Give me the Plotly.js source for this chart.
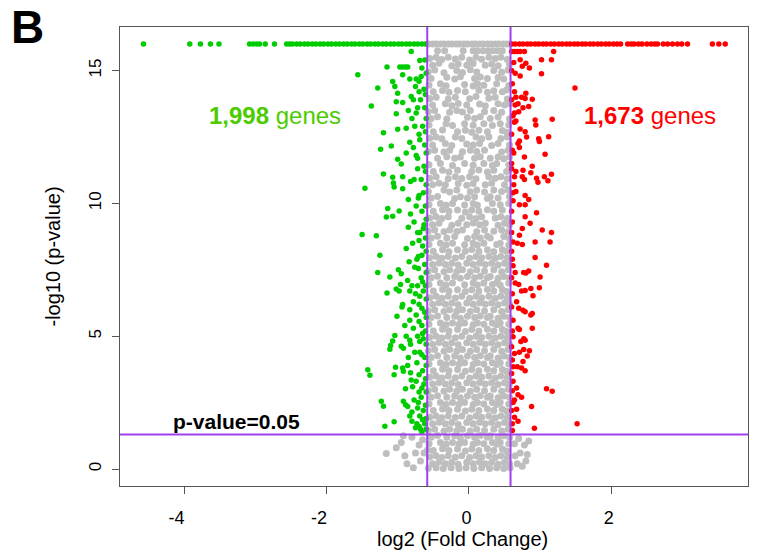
<!DOCTYPE html>
<html>
<head>
<meta charset="utf-8">
<script src="https://cdn.plot.ly/plotly-3.0.1.min.js"></script>
<style>html,body{margin:0;padding:0;background:#fff;}#chart{width:757px;height:556px;}</style>
</head>
<body>
<div id="chart"></div>
<script>
// ---- data ----
const xTickVals = [-4, -2, 0, 2];
const xTickLabels = ['-4\u00a0\u00a0\u00a0', '-2\u00a0\u00a0\u00a0', '0\u00a0', '2\u00a0'];
const yTickVals = [0, 5, 10, 15];
const fcCut = 0.585;        // log2(1.5)
const pCut = 1.301;         // -log10(0.05)
const capY = 16;            // capped -log10(p)
const downCount = "1,998";
const upCount = "1,673";
const xTitle = "log2 (Fold Change)";
const yTitle = "-log10 (p-value)";

// points capped at the top (y = 16)
const greenTopX = [-4.57,-3.92,-3.77,-3.63,-3.51,-3.08,-3.03,-2.98,-2.94,-2.86,-2.73,-2.56,-2.52,-2.48,-2.42,-2.37,-2.31,-2.26,-2.2,-2.15,-2.09,-2.04,-1.98,-1.93,-1.87,-1.82,-1.76,-1.71,-1.65,-1.6,-1.54,-1.49,-1.43,-1.38,-1.32,-1.27,-1.21,-1.16,-1.1,-1.05,-0.99,-0.94,-0.88,-0.83,-0.77,-0.72,-0.66,-0.61];
const redTopX = [0.6,0.65,0.71,0.76,0.82,0.87,0.93,0.98,1.04,1.09,1.15,1.2,1.26,1.31,1.37,1.42,1.48,1.53,1.59,1.64,1.7,1.75,1.81,1.86,1.92,1.97,2.03,2.08,2.13,2.23,2.28,2.32,2.38,2.43,2.5,2.56,2.61,2.65,2.73,2.79,2.86,2.93,2.99,3.07,3.42,3.51,3.6];
const grayTopX = [-0.57,-0.51,-0.46,-0.4,-0.35,-0.29,-0.24,-0.18,-0.13,-0.07,-0.02,0.04,0.09,0.15,0.2,0.26,0.31,0.37,0.42,0.48,0.53,0.57];

// down-regulated genes (green)
const greenPts = [
[-0.81,15.72],[-1.15,15.13],[-1.56,14.84],[-0.97,15.13],[-0.93,15.13],[-0.89,15.13],[-0.86,15.13],[-0.69,15.38],[-0.93,14.84],[-0.83,14.68],[-0.74,14.68],[-0.67,14.78],[-1.07,14.59],[-1.28,14.34],[-1.04,14.4],[-1.0,14.15],[-1.37,13.67],[-1.02,13.83],[-0.93,13.8],[-0.81,14.02],[-1.02,13.37],[-0.88,12.83],[-1.0,12.79],[-1.2,12.66],[-1.09,12.16],[-1.24,12.04],[-1.0,11.66],[-0.95,11.48],[-1.2,11.11],[-1.07,10.98],[-1.06,10.77],[-1.05,10.62],[-0.93,11.0],[-0.82,10.82],[-1.46,10.57],[-0.93,10.55],[-0.85,10.15],[-1.14,9.81],[-0.98,9.71],[-1.16,9.49],[-1.07,9.52],[-1.5,8.83],[-1.3,8.78],
[-1.25,8.05],[-1.28,7.4],[-1.11,7.23],[-0.99,7.5],[-0.95,7.35],[-0.96,6.95],[-1.15,6.63],[-1.02,6.78],[-0.98,6.7],[-0.83,6.7],[-0.8,6.9],[-0.75,6.6],[-0.93,6.19],[-0.94,6.1],[-1.01,5.75],[-0.83,5.6],[-1.04,5.03],[-1.07,4.82],[-1.11,4.51],[-1.1,4.65],[-0.95,4.62],[-0.92,4.55],[-0.88,5.0],[-0.83,4.85],[-0.82,4.7],[-1.42,3.74],[-1.39,3.53],[-1.03,3.83],[-1.05,3.55],[-0.93,3.8],[-0.92,3.68],[-0.82,3.62],[-0.81,3.35],[-0.89,3.02],[-1.23,2.55],[-1.2,2.36],[-0.92,2.55],[-0.89,2.42],[-0.86,2.35],[-1.05,1.78],[-1.18,1.61],[-0.83,2.0],[-0.8,1.8],[-0.73,1.7],
[-0.75,14.4],[-0.7,14.2],[-0.78,13.9],[-0.72,13.6],[-0.85,13.5],[-0.8,13.2],[-0.76,12.9],[-0.7,12.6],[-0.83,12.3],[-0.78,12.1],[-0.74,11.8],[-0.88,11.9],[-0.72,11.3],[-0.77,10.9],[-0.7,10.3],[-0.74,9.9],[-0.82,9.6],[-0.77,9.3],[-0.85,9.1],[-0.72,8.9],[-0.79,8.5],[-0.88,8.3],[-0.71,8.0],[-0.84,7.8],[-0.76,7.6],[-0.86,7.1],[-0.72,6.9],[-0.78,6.3],[-0.83,6.0],[-0.74,5.8],[-0.9,5.4],[-0.78,5.3],[-0.72,5.0],[-0.76,4.4],[-0.85,4.2],[-0.73,4.0],[-0.86,3.9],[-0.74,3.3],[-0.79,3.1],[-0.7,2.9],[-0.77,2.6],[-0.72,2.3],[-0.8,2.15],[-0.69,2.0],[-0.75,1.55],[-0.68,1.5],
[-0.62,15.4],[-0.66,15.1],[-0.6,14.9],[-0.7,14.6],[-0.63,14.3],[-0.61,14.1],[-0.68,13.9],[-0.62,13.6],[-0.74,13.4],[-0.6,13.2],[-0.65,12.9],[-0.61,12.7],[-0.69,12.4],[-0.62,12.2],[-0.6,11.9],[-0.72,11.7],[-0.63,11.4],[-0.61,11.2],[-0.67,10.9],[-0.6,10.7],[-0.64,10.4],[-0.71,10.2],[-0.61,9.9],[-0.66,9.7],[-0.6,9.4],[-0.63,9.2],[-0.69,8.9],[-0.61,8.7],[-0.65,8.4],[-0.6,8.2],[-0.73,7.9],[-0.62,7.7],[-0.6,7.4],[-0.67,7.2],[-0.61,6.9],[-0.64,6.7],[-0.6,6.4],[-0.7,6.2],[-0.62,5.9],[-0.6,5.7],[-0.66,5.4],[-0.61,5.2],[-0.64,4.9],[-0.6,4.7],[-0.69,4.4],[-0.62,4.2],[-0.6,3.9],[-0.65,3.7],[-0.61,3.4],[-0.63,3.2],[-0.6,2.9],[-0.67,2.7],[-0.61,2.4],[-0.64,2.2],[-0.6,1.9],[-0.62,1.7],[-0.6,1.5],[-0.66,1.4],
[-0.64,9.05],[-0.7,8.6],[-0.66,8.05],[-0.71,7.55],[-0.65,7.05],[-0.69,6.5],[-0.66,6.05],[-0.7,5.55],[-0.65,5.1],[-0.69,4.8],[-0.66,4.3],[-0.7,3.55],[-0.66,3.05],[-0.71,2.5],[-0.65,1.85],[-0.7,1.6]
];

// up-regulated genes (red)
const redPts = [
[0.6,15.72],[0.64,15.72],[0.68,15.72],[0.72,15.72],[0.78,15.72],[1.19,15.72],[1.02,15.41],[1.16,15.41],[0.72,15.41],[0.75,15.16],[0.8,15.28],[0.85,15.1],[0.65,14.9],[0.72,14.8],[0.63,15.3],[1.02,14.88],[1.49,14.34],[0.64,14.2],[0.66,14.0],[0.74,14.0],[0.8,14.15],[0.79,13.95],[0.65,13.7],[0.69,13.75],[0.76,13.6],[0.84,13.65],[0.89,13.92],[0.64,13.4],[0.7,13.45],[0.66,13.1],[0.64,13.05],[0.93,13.14],[0.94,12.95],[1.17,13.17],[0.72,12.8],[0.79,12.7],[0.81,12.5],[0.98,12.43],[0.99,12.33],[1.12,12.51],[0.71,12.35],[0.69,12.25],[0.71,12.1],[1.07,11.85],[0.63,11.9],[0.78,11.75],[0.6,11.5],[0.89,11.4],[0.87,11.15],[0.76,11.25],[0.66,11.2],[0.64,11.0],[0.78,10.9],[0.75,11.0],[0.95,10.95],[0.97,10.8],[1.06,11.0],[1.16,11.1],[1.11,10.85],[0.63,10.7],[0.66,10.45],[0.79,10.3],[0.84,10.15],[0.71,9.95],[0.79,9.95],[0.62,10.1],[0.95,9.65],[0.79,9.5],[0.86,9.25],[0.75,9.05],[1.03,9.0],[1.16,8.9],[0.71,8.8],[0.6,8.9],
[0.62,8.55],[0.68,8.5],[0.75,8.45],[0.93,8.55],[1.14,8.55],[0.93,7.96],[1.09,7.67],[0.62,7.65],[0.65,7.4],[0.77,7.4],[0.84,7.45],[0.8,7.38],[1.0,7.23],[0.65,7.0],[0.7,6.95],[0.74,6.7],[0.79,6.72],[0.87,6.8],[0.99,6.82],[0.9,6.52],[0.67,6.3],[0.7,6.05],[0.76,5.98],[0.79,5.92],[0.87,5.8],[0.89,5.85],[0.62,5.6],[0.69,5.3],[0.71,5.25],[0.89,5.3],[0.62,4.98],[0.73,4.8],[0.77,4.9],[0.79,4.85],[0.77,4.5],[0.85,4.45],[0.82,4.25],[0.71,4.4],[0.64,4.35],[0.62,3.85],[0.68,3.85],[0.74,3.8],[0.79,3.7],[0.76,4.05],[1.09,3.02],[1.17,2.93],[0.62,3.3],[0.67,3.05],[0.69,2.8],[0.74,2.7],[0.64,2.6],[0.88,2.35],[0.62,2.5],[0.67,2.25],[0.64,1.95],[0.69,1.8],[0.92,1.53],[1.52,1.7],[0.61,1.45],
[0.6,15.0],[0.61,14.5],[0.6,13.9],[0.62,13.3],[0.6,12.6],[0.61,12.0],[0.6,11.3],[0.62,10.4],[0.6,9.7],[0.61,9.3],[0.6,8.2],[0.61,7.9],[0.6,7.2],[0.61,6.6],[0.6,6.1],[0.61,5.2],[0.6,4.6],[0.61,4.1],[0.6,3.6],[0.61,2.95],[0.6,2.2],[0.61,1.7]
];

// not significant genes (gray)
const grayPts = [
[-0.44,15.75],[-0.34,15.75],[-0.08,15.75],[0.06,15.75],[0.12,15.75],[0.2,15.75],[0.27,15.75],[0.33,15.75],[0.4,15.75],[0.47,15.75],
[-0.55,15.45],[-0.46,15.5],[-0.38,15.42],[-0.29,15.5],[-0.19,15.44],[-0.1,15.5],[0.01,15.4],[0.1,15.5],[0.18,15.43],[0.28,15.5],[0.37,15.45],[0.45,15.5],[0.54,15.42],
[-0.51,15.2],[-0.42,15.28],[-0.24,15.18],[-0.15,15.25],[-0.03,15.2],[0.06,15.27],[0.23,15.2],[0.32,15.25],[0.41,15.18],[0.57,15.25],
[-0.57,14.95],[-0.48,15.02],[-0.35,14.92],[-0.17,15.0],[-0.09,14.93],[0.02,15.03],[0.11,14.95],[0.35,15.0],[0.46,14.94],[0.55,15.02],
[-0.53,14.7],[-0.31,14.75],[-0.2,14.68],[-0.12,14.77],[0.08,14.7],[0.16,14.76],[0.26,14.7],[0.41,14.74],[0.49,14.68],
[-0.56,14.45],[-0.4,14.5],[-0.32,14.43],[-0.06,14.48],[0.06,14.42],[0.12,14.5],[0.21,14.45],[0.39,14.5],[0.56,14.44],
[-0.5,14.2],[-0.37,14.25],[-0.28,14.18],[-0.16,14.25],[-0.05,14.2],[0.14,14.26],[0.26,14.18],[0.35,14.24],[0.47,14.2],[0.53,14.27],
[-0.55,13.95],[-0.46,14.0],[-0.29,13.93],[-0.19,14.0],[0.01,13.94],[0.1,14.02],[0.28,13.96],[0.37,14.0],[0.54,13.93],
[-0.51,13.7],[-0.33,13.75],[-0.24,13.68],[-0.15,13.76],[-0.03,13.7],[0.15,13.74],[0.23,13.68],[0.41,13.75],[0.5,13.7],[0.57,13.76],
[-0.57,13.45],[-0.48,13.5],[-0.27,13.43],[-0.17,13.5],[-0.09,13.44],[0.02,13.5],[0.22,13.45],[0.35,13.5],[0.46,13.43],
[-0.53,13.2],[-0.44,13.26],[-0.31,13.18],[-0.02,13.24],[0.08,13.2],[0.16,13.26],[0.3,13.2],[0.41,13.25],[0.57,13.18],
[-0.56,12.95],[-0.32,13.0],[-0.23,12.93],[-0.06,13.0],[0.06,12.94],[0.21,13.0],[0.33,12.93],[0.44,13.0],[0.56,12.95],
[-0.5,12.7],[-0.37,12.76],[-0.16,12.7],[-0.05,12.75],[0.04,12.68],[0.14,12.75],[0.26,12.7],[0.47,12.74],[0.53,12.68],
[-0.55,12.45],[-0.46,12.5],[-0.38,12.43],[-0.19,12.5],[-0.1,12.44],[0.1,12.5],[0.18,12.43],[0.28,12.5],[0.45,12.44],[0.54,12.5],
[-0.51,12.2],[-0.33,12.25],[-0.24,12.18],[-0.03,12.24],[0.06,12.2],[0.15,12.25],[0.32,12.18],[0.41,12.25],[0.57,12.2],
[-0.57,11.95],[-0.48,12.0],[-0.35,11.93],[-0.27,12.0],[-0.09,11.94],[0.02,12.0],[0.11,11.95],[0.22,12.0],[0.46,11.93],[0.55,12.0],
[-0.44,11.7],[-0.31,11.76],[-0.2,11.7],[-0.12,11.75],[0.08,11.7],[0.16,11.76],[0.3,11.7],[0.41,11.75],[0.49,11.68],[0.57,11.75],
[-0.56,11.45],[-0.4,11.5],[-0.23,11.43],[-0.06,11.5],[0.06,11.44],[0.21,11.5],[0.33,11.43],[0.39,11.5],[0.56,11.45],
[-0.5,11.2],[-0.37,11.25],[-0.28,11.18],[-0.16,11.25],[0.04,11.2],[0.14,11.26],[0.26,11.18],[0.35,11.25],[0.53,11.2],
[-0.55,10.95],[-0.46,11.0],[-0.29,10.93],[-0.19,11.0],[-0.1,10.94],[0.01,11.0],[0.1,10.93],[0.28,11.0],[0.37,10.95],[0.45,11.0],[0.54,10.93],
[-0.51,10.7],[-0.42,10.76],[-0.33,10.7],[-0.15,10.75],[-0.03,10.68],[0.06,10.75],[0.23,10.7],[0.32,10.76],[0.5,10.7],
[-0.57,10.45],[-0.35,10.5],[-0.27,10.43],[-0.17,10.5],[0.02,10.44],[0.11,10.5],[0.22,10.43],[0.35,10.5],[0.46,10.45],[0.55,10.5],
[-0.53,10.2],[-0.44,10.26],[-0.2,10.18],[-0.12,10.25],[-0.02,10.2],[0.08,10.25],[0.26,10.18],[0.3,10.25],[0.41,10.2],[0.57,10.26],
[-0.56,9.95],[-0.4,10.0],[-0.32,9.93],[-0.23,10.0],[-0.06,9.94],[0.06,10.0],[0.12,9.93],[0.33,10.0],[0.44,9.95],[0.56,10.0],
[-0.5,9.7],[-0.37,9.76],[-0.28,9.7],[-0.16,9.75],[-0.05,9.68],[0.04,9.75],[0.14,9.7],[0.26,9.76],[0.35,9.7],[0.47,9.75],
[-0.55,9.45],[-0.46,9.5],[-0.38,9.43],[-0.29,9.5],[-0.1,9.44],[0.01,9.5],[0.1,9.43],[0.18,9.5],[0.37,9.45],[0.45,9.5],[0.54,9.43],
[-0.51,9.2],[-0.42,9.25],[-0.24,9.18],[-0.15,9.25],[-0.03,9.2],[0.06,9.26],[0.15,9.2],[0.23,9.25],[0.41,9.18],[0.5,9.25],[0.57,9.2],
[-0.57,8.95],[-0.48,9.0],[-0.35,8.93],[-0.27,9.0],[-0.17,8.94],[-0.09,9.0],[0.11,8.93],[0.22,9.0],[0.35,8.95],[0.46,9.0],[0.55,8.93],
[-0.53,8.7],[-0.44,8.76],[-0.31,8.7],[-0.2,8.75],[-0.02,8.68],[0.08,8.75],[0.16,8.7],[0.26,8.76],[0.3,8.7],[0.49,8.75],[0.57,8.68],
[-0.56,8.45],[-0.4,8.5],[-0.32,8.43],[-0.23,8.5],[-0.06,8.44],[0.06,8.5],[0.12,8.43],[0.21,8.5],[0.39,8.45],[0.44,8.5],[0.56,8.43],
[-0.5,8.2],[-0.37,8.25],[-0.28,8.18],[-0.16,8.25],[-0.05,8.2],[0.04,8.26],[0.14,8.2],[0.26,8.25],[0.35,8.18],[0.47,8.25],[0.53,8.2],
[-0.55,7.95],[-0.46,8.0],[-0.38,7.93],[-0.29,8.0],[-0.19,7.94],[-0.1,8.0],[0.01,7.93],[0.1,8.0],[0.18,7.95],[0.28,8.0],[0.37,7.93],[0.45,8.0],[0.54,7.95],
[-0.51,7.7],[-0.42,7.76],[-0.33,7.7],[-0.24,7.75],[-0.15,7.68],[-0.03,7.75],[0.06,7.7],[0.15,7.76],[0.23,7.7],[0.32,7.75],[0.41,7.68],[0.5,7.75],[0.57,7.7],
[-0.57,7.45],[-0.48,7.5],[-0.35,7.43],[-0.27,7.5],[-0.17,7.44],[-0.09,7.5],[0.02,7.43],[0.11,7.5],[0.22,7.45],[0.35,7.5],[0.46,7.43],[0.55,7.5],
[-0.53,7.2],[-0.44,7.26],[-0.31,7.2],[-0.2,7.25],[-0.12,7.18],[-0.02,7.25],[0.08,7.2],[0.16,7.26],[0.26,7.2],[0.3,7.25],[0.41,7.18],[0.49,7.25],[0.57,7.2],
[-0.56,6.95],[-0.4,7.0],[-0.32,6.93],[-0.23,7.0],[-0.06,6.94],[0.06,7.0],[0.12,6.93],[0.21,7.0],[0.33,6.95],[0.39,7.0],[0.44,6.93],[0.56,7.0],
[-0.5,6.7],[-0.37,6.76],[-0.28,6.7],[-0.16,6.75],[-0.05,6.68],[0.04,6.75],[0.14,6.7],[0.26,6.76],[0.35,6.7],[0.47,6.75],[0.53,6.68],
[-0.55,6.45],[-0.46,6.5],[-0.38,6.43],[-0.29,6.5],[-0.19,6.44],[-0.1,6.5],[0.01,6.43],[0.1,6.5],[0.18,6.45],[0.28,6.5],[0.37,6.43],[0.45,6.5],[0.54,6.45],
[-0.51,6.2],[-0.42,6.26],[-0.33,6.2],[-0.24,6.25],[-0.15,6.18],[-0.03,6.25],[0.06,6.2],[0.15,6.26],[0.23,6.2],[0.32,6.25],[0.41,6.18],[0.5,6.25],[0.57,6.2],
[-0.57,5.95],[-0.48,6.0],[-0.35,5.93],[-0.27,6.0],[-0.17,5.94],[-0.09,6.0],[0.02,5.93],[0.11,6.0],[0.22,5.95],[0.35,6.0],[0.46,5.93],[0.55,6.0],
[-0.53,5.7],[-0.44,5.76],[-0.31,5.7],[-0.2,5.75],[-0.12,5.68],[-0.02,5.75],[0.08,5.7],[0.16,5.76],[0.26,5.7],[0.3,5.75],[0.41,5.68],[0.49,5.75],[0.57,5.7],
[-0.56,5.45],[-0.4,5.5],[-0.32,5.43],[-0.23,5.5],[-0.14,5.44],[-0.06,5.5],[0.06,5.43],[0.12,5.5],[0.21,5.45],[0.33,5.5],[0.39,5.43],[0.44,5.5],[0.56,5.45],
[-0.5,5.2],[-0.37,5.26],[-0.28,5.2],[-0.16,5.25],[-0.05,5.18],[0.04,5.25],[0.14,5.2],[0.26,5.26],[0.35,5.2],[0.47,5.25],[0.53,5.18],
[-0.55,4.95],[-0.46,5.0],[-0.38,4.93],[-0.29,5.0],[-0.19,4.94],[-0.1,5.0],[0.01,4.93],[0.1,5.0],[0.18,4.95],[0.28,5.0],[0.37,4.93],[0.45,5.0],[0.54,4.95],
[-0.51,4.7],[-0.42,4.76],[-0.33,4.7],[-0.24,4.75],[-0.15,4.68],[-0.03,4.75],[0.06,4.7],[0.15,4.76],[0.23,4.7],[0.32,4.75],[0.41,4.68],[0.5,4.75],[0.57,4.7],
[-0.57,4.45],[-0.48,4.5],[-0.35,4.43],[-0.27,4.5],[-0.17,4.44],[-0.09,4.5],[0.02,4.43],[0.11,4.5],[0.22,4.45],[0.35,4.5],[0.46,4.43],[0.55,4.5],
[-0.53,4.2],[-0.44,4.26],[-0.31,4.2],[-0.2,4.25],[-0.12,4.18],[-0.02,4.25],[0.08,4.2],[0.16,4.26],[0.26,4.2],[0.3,4.25],[0.41,4.18],[0.49,4.25],[0.57,4.2],
[-0.56,3.95],[-0.4,4.0],[-0.32,3.93],[-0.23,4.0],[-0.14,3.94],[-0.06,4.0],[0.06,3.93],[0.12,4.0],[0.21,3.95],[0.33,4.0],[0.39,3.93],[0.44,4.0],[0.56,3.95],
[-0.5,3.7],[-0.37,3.76],[-0.28,3.7],[-0.16,3.75],[-0.05,3.68],[0.04,3.75],[0.14,3.7],[0.26,3.76],[0.35,3.7],[0.47,3.75],[0.53,3.68],
[-0.55,3.45],[-0.46,3.5],[-0.38,3.43],[-0.29,3.5],[-0.19,3.44],[-0.1,3.5],[0.01,3.43],[0.1,3.5],[0.18,3.45],[0.28,3.5],[0.37,3.43],[0.45,3.5],[0.54,3.45],
[-0.51,3.2],[-0.42,3.26],[-0.33,3.2],[-0.24,3.25],[-0.15,3.18],[-0.03,3.25],[0.06,3.2],[0.15,3.26],[0.23,3.2],[0.32,3.25],[0.41,3.18],[0.5,3.25],[0.57,3.2],
[-0.57,2.95],[-0.48,3.0],[-0.35,2.93],[-0.27,3.0],[-0.17,2.94],[-0.09,3.0],[0.02,2.93],[0.11,3.0],[0.22,2.95],[0.35,3.0],[0.46,2.93],[0.55,3.0],
[-0.53,2.7],[-0.44,2.76],[-0.31,2.7],[-0.2,2.75],[-0.12,2.68],[-0.02,2.75],[0.08,2.7],[0.16,2.76],[0.26,2.7],[0.3,2.75],[0.41,2.68],[0.49,2.75],[0.57,2.7],
[-0.56,2.45],[-0.4,2.5],[-0.32,2.43],[-0.23,2.5],[-0.14,2.44],[-0.06,2.5],[0.06,2.43],[0.12,2.5],[0.21,2.45],[0.33,2.5],[0.39,2.43],[0.44,2.5],[0.56,2.45],
[-0.5,2.2],[-0.37,2.26],[-0.28,2.2],[-0.16,2.25],[-0.05,2.18],[0.04,2.25],[0.14,2.2],[0.26,2.26],[0.35,2.2],[0.47,2.25],[0.53,2.18],
[-0.55,1.95],[-0.46,2.0],[-0.38,1.93],[-0.29,2.0],[-0.19,1.94],[-0.1,2.0],[0.01,1.93],[0.1,2.0],[0.18,1.95],[0.28,2.0],[0.37,1.93],[0.45,2.0],[0.54,1.95],
[-0.51,1.7],[-0.42,1.76],[-0.33,1.7],[-0.24,1.75],[-0.15,1.68],[-0.03,1.75],[0.06,1.7],[0.15,1.76],[0.23,1.7],[0.32,1.75],[0.41,1.68],[0.5,1.75],[0.57,1.7],
[-0.57,1.45],[-0.48,1.5],[-0.35,1.43],[-0.27,1.5],[-0.17,1.44],[-0.09,1.5],[0.02,1.43],[0.11,1.5],[0.22,1.45],[0.35,1.5],[0.46,1.43],[0.55,1.5],
[-0.53,1.2],[-0.44,1.26],[-0.31,1.2],[-0.2,1.25],[-0.12,1.18],[-0.02,1.25],[0.08,1.2],[0.16,1.26],[0.26,1.2],[0.3,1.25],[0.41,1.18],[0.49,1.25],[0.57,1.2],
[-0.56,0.95],[-0.4,1.0],[-0.32,0.93],[-0.23,1.0],[-0.14,0.94],[-0.06,1.0],[0.06,0.93],[0.12,1.0],[0.21,0.95],[0.33,1.0],[0.39,0.93],[0.44,1.0],[0.56,0.95],
[-0.5,0.7],[-0.37,0.76],[-0.28,0.7],[-0.16,0.75],[-0.05,0.68],[0.04,0.75],[0.14,0.7],[0.26,0.76],[0.35,0.7],[0.47,0.75],[0.53,0.68],[-0.58,0.72],
[-0.55,0.45],[-0.46,0.5],[-0.38,0.43],[-0.29,0.5],[-0.19,0.44],[-0.1,0.5],[0.01,0.43],[0.1,0.5],[0.18,0.45],[0.28,0.5],[0.37,0.43],[0.45,0.5],[0.54,0.45],
[-0.51,0.2],[-0.42,0.26],[-0.33,0.2],[-0.24,0.25],[-0.15,0.18],[-0.03,0.25],[0.06,0.2],[0.15,0.26],[0.23,0.2],[0.32,0.25],[0.41,0.18],[0.5,0.25],[0.57,0.2],
[-0.57,0.03],[-0.46,0.05],[-0.36,0.02],[-0.25,0.05],[-0.14,0.02],[-0.04,0.05],[0.07,0.02],[0.18,0.05],[0.29,0.02],[0.39,0.05],[0.49,0.02],[0.58,0.05],
[-1.16,0.58],[-1.02,0.8],[-0.95,1.0],[-0.9,0.5],[-0.87,0.2],[-0.8,1.2],[-0.75,0.6],[-0.7,0.9],[-0.68,0.3],[-0.65,1.1],[-0.92,1.25],[-0.78,0.05],[-0.63,0.6],
[0.7,1.15],[0.72,0.6],[0.78,0.9],[0.84,1.05],[0.8,0.3],[0.75,0.1],[0.65,0.5],[0.68,0.2],[0.82,0.55],[0.64,0.95]
];

// ---- build traces ----
function xs(p){return p.map(d=>d[0]);}
function ys(p){return p.map(d=>d[1]);}
const grayX = xs(grayPts).concat(grayTopX);
const grayY = ys(grayPts).concat(grayTopX.map(()=>capY));
const greenX = xs(greenPts).concat(greenTopX);
const greenY = ys(greenPts).concat(greenTopX.map(()=>capY));
const redX = xs(redPts).concat(redTopX);
const redY = ys(redPts).concat(redTopX.map(()=>capY));

const FONT = 'Liberation Sans, Arial, Helvetica, sans-serif';
const traces = [
  {x: grayX, y: grayY, type: 'scatter', mode: 'markers', marker: {color: '#bebebe', size: 7}, hoverinfo: 'skip'},
  {x: greenX, y: greenY, type: 'scatter', mode: 'markers', marker: {color: '#00cd00', size: 5.5}, hoverinfo: 'skip'},
  {x: redX, y: redY, type: 'scatter', mode: 'markers', marker: {color: '#ff0000', size: 5.5}, hoverinfo: 'skip'}
];

const lineColor = '#a040f0';
const layout = {
  width: 757, height: 556,
  margin: {l: 120, r: 9, t: 27, b: 70},
  paper_bgcolor: '#ffffff', plot_bgcolor: '#ffffff',
  showlegend: false,
  font: {family: FONT, color: '#000', size: 16},
  xaxis: {
    range: [-4.9, 3.92], tickvals: xTickVals, ticktext: xTickLabels,
    ticks: 'outside', ticklen: 7, tickcolor: '#555', tickwidth: 1,
    showline: true, mirror: true, linecolor: '#555', linewidth: 1,
    showgrid: false, zeroline: false, tickfont: {size: 18, family: FONT},
    ticklabelstandoff: 8,
    automargin: false, fixedrange: true
  },
  yaxis: {
    range: [-0.64, 16.64], tickvals: yTickVals, ticktext: yTickVals.map(String),
    ticks: 'outside', ticklen: 7, tickcolor: '#555', tickwidth: 1, tickangle: -90,
    showline: true, mirror: true, linecolor: '#555', linewidth: 1,
    showgrid: false, zeroline: false, tickfont: {size: 17, family: FONT},
    ticklabelstandoff: 4,
    title: {text: yTitle, font: {size: 20, family: FONT}, standoff: 20},
    automargin: false, fixedrange: true
  },
  shapes: [
    {type: 'line', xref: 'x', yref: 'paper', x0: -fcCut, x1: -fcCut, y0: 0, y1: 1, line: {color: lineColor, width: 2}, layer: 'above'},
    {type: 'line', xref: 'x', yref: 'paper', x0: fcCut, x1: fcCut, y0: 0, y1: 1, line: {color: lineColor, width: 2}, layer: 'above'},
    {type: 'line', xref: 'paper', yref: 'y', x0: 0, x1: 1, y0: pCut, y1: pCut, line: {color: lineColor, width: 2}, layer: 'above'}
  ],
  annotations: [
    {text: '<b>B</b>', xref: 'paper', yref: 'paper', x: -0.148, y: 0.999, xanchor: 'center', yanchor: 'middle', showarrow: false, font: {size: 46, family: FONT, color: '#000'}},
    {text: '<b>' + downCount + '</b> genes', xref: 'paper', yref: 'paper', x: 0.2476, y: 0.807, xanchor: 'center', yanchor: 'middle', showarrow: false, font: {size: 24, family: FONT, color: '#4ccc00'}},
    {text: '<b>' + upCount + '</b> genes', xref: 'paper', yref: 'paper', x: 0.8447, y: 0.807, xanchor: 'center', yanchor: 'middle', showarrow: false, font: {size: 24, family: FONT, color: '#ff0000'}},
    {text: '<b>p-value=0.05</b>', xref: 'paper', yref: 'paper', x: 0.186, y: 0.14, xanchor: 'center', yanchor: 'middle', showarrow: false, font: {size: 21, family: FONT, color: '#000'}},
    {text: xTitle, xref: 'paper', yref: 'paper', x: 0.546, y: -0.115, xanchor: 'center', yanchor: 'middle', showarrow: false, font: {size: 20, family: FONT, color: '#000'}}
  ]
};

Plotly.newPlot('chart', traces, layout, {displayModeBar: false, staticPlot: true});
</script>
</body>
</html>
